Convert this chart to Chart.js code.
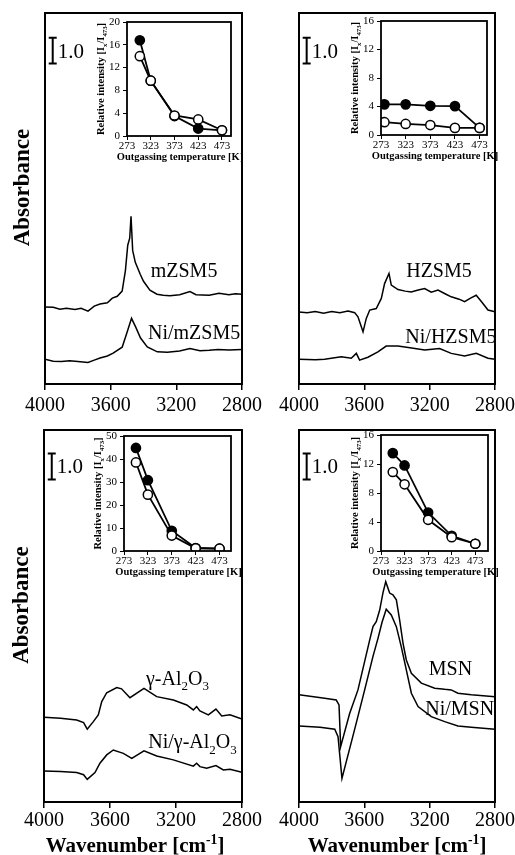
<!DOCTYPE html>
<html>
<head>
<meta charset="utf-8">
<script src="https://cdn.jsdelivr.net/npm/chart.js@4.4.1/dist/chart.umd.min.js"></script>
<style>
  body { margin: 0; background: #fff; overflow: hidden; }
  #wrap { position: relative; width: 515px; height: 855px; overflow: hidden; }
  #wrap canvas { position: absolute; left: 0; top: 0; }
</style>
</head>
<body>
<div id="wrap">
  <canvas id="mainTL" width="530" height="855"></canvas>
  <canvas id="mainTR" width="530" height="855"></canvas>
  <canvas id="mainBL" width="530" height="855"></canvas>
  <canvas id="mainBR" width="530" height="855"></canvas>
  <canvas id="insetTL" width="530" height="855"></canvas>
  <canvas id="insetTR" width="530" height="855"></canvas>
  <canvas id="insetBL" width="530" height="855"></canvas>
  <canvas id="insetBR" width="530" height="855"></canvas>
</div>
<script>
const FONT = "'Liberation Serif', 'Times New Roman', serif";
Chart.defaults.font.family = FONT;
Chart.defaults.color = '#000';

// x ticks
const wnTicks = [4000, 3600, 3200, 2800];
const tempTicks = [273, 323, 373, 423, 473];

// spectra (wavenumber / absorbance, a.u.)
const wnMZSM5 = [4000,3950,3909,3870,3817,3780,3738,3700,3665,3620,3590,3560,3530,3510,3496,3484,3476,3466,3450,3420,3400,3361,3318,3280,3239,3180,3117,3080,3000,2940,2880,2840,2800];
const absMZSM5 = [2.97,2.96,2.88,2.92,2.87,2.92,2.81,3.00,3.08,3.13,3.31,3.38,3.58,4.38,5.35,5.62,6.46,5.15,4.69,4.23,3.96,3.62,3.46,3.42,3.40,3.44,3.56,3.44,3.42,3.50,3.44,3.48,3.46];
const wnNiMZSM5 = [4000,3950,3900,3850,3800,3738,3700,3665,3620,3585,3530,3499,3473,3448,3418,3377,3316,3255,3180,3117,3056,3000,2946,2880,2800];
const absNiMZSM5 = [0.95,0.88,0.87,0.90,0.87,0.83,0.92,1.00,1.08,1.19,1.42,2.01,2.53,2.20,1.77,1.43,1.24,1.22,1.27,1.37,1.28,1.30,1.33,1.31,1.33];

const wnHZSM5 = [4000,3950,3900,3850,3800,3750,3700,3659,3639,3608,3588,3567,3527,3496,3476,3449,3435,3394,3350,3313,3270,3231,3190,3149,3100,3068,3020,2986,2950,2915,2880,2843,2800];
const absHZSM5 = [2.78,2.75,2.79,2.73,2.79,2.75,2.81,2.75,2.59,2.01,2.53,2.85,2.91,3.30,3.87,4.26,3.81,3.64,3.58,3.55,3.62,3.68,3.54,3.62,3.46,3.36,3.27,3.17,3.31,3.42,3.15,2.85,2.78];
const wnNiHZSM5 = [4000,3900,3843,3741,3680,3649,3629,3578,3517,3466,3394,3300,3231,3139,3068,2986,2915,2843,2800];
const absNiHZSM5 = [0.95,0.93,0.95,1.05,0.99,1.18,0.92,1.03,1.24,1.46,1.46,1.38,1.31,1.37,1.18,1.08,1.18,0.99,0.95];

const wnAl2O3 = [4000,3900,3802,3760,3738,3701,3671,3650,3620,3559,3530,3479,3394,3317,3216,3135,3095,3075,3055,3004,2958,2923,2873,2800];
const absAl2O3 = [3.26,3.22,3.15,3.05,2.80,3.09,3.35,3.86,4.20,4.40,4.35,4.01,4.37,4.05,3.92,3.73,3.54,3.67,3.50,3.35,3.57,3.31,3.35,3.19];
const wnNiAl2O3 = [4000,3900,3802,3760,3738,3691,3661,3620,3580,3519,3468,3394,3317,3216,3095,3075,3055,3014,2958,2913,2873,2800];
const absNiAl2O3 = [1.19,1.17,1.13,1.05,0.87,1.13,1.49,1.81,2.00,1.87,1.68,1.97,1.77,1.62,1.38,1.49,1.36,1.30,1.40,1.23,1.26,1.14];

const wnMSN = [4000,3843,3772,3755,3745,3690,3639,3567,3547,3527,3506,3486,3469,3445,3425,3404,3384,3363,3343,3312,3251,3169,3108,3068,3027,2945,2800];
const absMSN = [4.12,3.99,3.92,3.73,2.13,3.40,4.31,6.23,6.74,6.93,7.38,8.04,8.47,8.03,7.96,7.77,7.00,6.10,5.46,4.95,4.57,4.37,4.33,4.31,4.18,4.12,4.05];
const wnNiMSN = [4000,3871,3781,3761,3737,3657,3598,3547,3516,3492,3466,3435,3404,3374,3343,3312,3271,3190,3108,3027,2945,2800];
const absNiMSN = [2.92,2.87,2.80,2.51,0.91,2.85,4.31,5.60,6.30,6.90,7.41,7.19,6.74,5.97,5.08,4.18,3.67,3.28,3.09,2.92,2.87,2.80];

// insets: relative intensity I_x/I_473 vs outgassing temperature
const tempMZSM5 = [300, 323, 373, 423, 473];
const relMZSM5 = [16.8, 9.7, 3.5, 1.3, 1.0];
const relNiMZSM5 = [14.0, 9.7, 3.6, 2.9, 1.0];
const tempHZSM5 = [280, 323, 373, 423, 473];
const relHZSM5 = [4.3, 4.3, 4.1, 4.05, 1.0];
const relNiHZSM5 = [1.8, 1.55, 1.4, 1.0, 1.0];
const tempAl2O3 = [298, 323, 373, 423, 473];
const relAl2O3 = [44.8, 30.8, 8.8, 1.3, 1.0];
const relNiAl2O3 = [38.5, 24.5, 6.7, 1.2, 1.0];
const tempMSN = [298, 323, 373, 423, 473];
const relMSN = [13.5, 11.8, 5.3, 2.1, 1.0];
const relNiMSN = [10.9, 9.2, 4.3, 1.9, 1.0];

const W = 530, H = 855;
const yMax = 14.3;

// text with sub/superscripts: parts = [[text, 'sub'|'sup'|undefined], ...]
function drawRich(ctx, parts, x, y, size, bold, align, rot) {
  ctx.save();
  ctx.translate(x, y);
  if (rot) ctx.rotate(-Math.PI / 2);
  const fontOf = s => (bold ? 'bold ' : '') + s + 'px ' + FONT;
  const segs = parts.map(p => {
    const kind = p[1] || 'n';
    const s = kind === 'n' ? size : size * 0.65;
    ctx.font = fontOf(s);
    return { t: p[0], s: s, kind: kind, w: ctx.measureText(p[0]).width };
  });
  const total = segs.reduce((m, g) => m + g.w, 0);
  let cx = align === 'center' ? -total / 2 : (align === 'right' ? -total : 0);
  ctx.textAlign = 'left';
  ctx.textBaseline = 'alphabetic';
  ctx.fillStyle = '#000';
  const base = size * 0.33;
  segs.forEach(g => {
    ctx.font = fontOf(g.s);
    const off = g.kind === 'sub' ? size * 0.28 : (g.kind === 'sup' ? -size * 0.38 : 0);
    ctx.fillText(g.t, cx, base + off);
    cx += g.w;
  });
  ctx.restore();
}

function makeDecor(p) {
  return {
    id: 'decor',
    afterDraw(chart) {
      const ctx = chart.ctx, a = chart.chartArea;
      const xs = chart.scales.x, ys = chart.scales.y;
      ctx.save();
      ctx.strokeStyle = '#000';
      ctx.lineWidth = p.frame;
      ctx.strokeRect(a.left, a.top, a.right - a.left, a.bottom - a.top);
      (p.labels || []).forEach(l => {
        drawRich(ctx, l.parts, xs.getPixelForValue(l.x), ys.getPixelForValue(l.y), 20, false, 'center', false);
      });
      if (p.bar) {
        const bx = xs.getPixelForValue(p.bar.x);
        const y1 = ys.getPixelForValue(p.bar.top), y2 = ys.getPixelForValue(p.bar.top - 1.0);
        ctx.lineWidth = 2;
        ctx.beginPath();
        ctx.moveTo(bx, y1); ctx.lineTo(bx, y2);
        ctx.moveTo(bx - 4, y1); ctx.lineTo(bx + 4, y1);
        ctx.moveTo(bx - 4, y2); ctx.lineTo(bx + 4, y2);
        ctx.stroke();
        drawRich(ctx, [['1.0']], bx + 5, (y1 + y2) / 2, 21, false, 'left', false);
      }
      if (p.yTitle) {
        drawRich(ctx, p.yTitle.parts, a.left + p.yTitle.dx, (a.top + a.bottom) / 2 + p.yTitle.dy, p.yTitle.size, true, 'center', true);
      }
      if (p.xTitle) {
        drawRich(ctx, p.xTitle.parts, (a.left + a.right) / 2 + p.xTitle.dx, a.bottom + p.xTitle.dy, p.xTitle.size, true, 'center', false);
      }
      ctx.restore();
    }
  };
}

function spectrumChart(id, series, p) {
  return new Chart(document.getElementById(id), {
    type: 'line',
    data: {
      datasets: series.map(s => ({
        data: s.wn.map((w, i) => ({ x: w, y: s.abs[i] })),
        borderColor: '#000',
        borderWidth: 1.5,
        pointRadius: 0,
        tension: 0,
        fill: false
      }))
    },
    options: {
      responsive: false,
      animation: false,
      events: [],
      layout: { padding: { left: p.area[0], top: p.area[1], right: W - p.area[2], bottom: H - p.area[3] - p.xH } },
      plugins: { legend: { display: false }, tooltip: { enabled: false } },
      scales: {
        x: {
          type: 'linear', reverse: true, min: 2800, max: 4000,
          afterBuildTicks: s => { s.ticks = wnTicks.map(v => ({ value: v })); },
          afterFit: s => { s.height = p.xH; },
          ticks: { font: { size: 20 }, color: '#000', padding: p.tickPad, maxRotation: 0, autoSkip: false, callback: v => String(v) },
          grid: { drawOnChartArea: false, drawTicks: true, tickLength: 6, color: '#000', lineWidth: 1.5 },
          border: { display: false }
        },
        y: { display: false, min: 0, max: yMax }
      }
    },
    plugins: [makeDecor(p)]
  });
}

function insetChart(id, temps, filled, open, p) {
  const pts = vals => temps.map((t, i) => ({ x: t, y: vals[i] }));
  return new Chart(document.getElementById(id), {
    type: 'line',
    data: {
      datasets: [
        { data: pts(open), borderColor: '#000', borderWidth: 1.8, pointRadius: 4.6, pointBackgroundColor: '#fff', pointBorderColor: '#000', pointBorderWidth: 1.5, tension: 0 },
        { data: pts(filled), borderColor: '#000', borderWidth: 1.8, pointRadius: 4.6, pointBackgroundColor: '#000', pointBorderColor: '#000', pointBorderWidth: 1.5, tension: 0 }
      ]
    },
    options: {
      responsive: false,
      animation: false,
      events: [],
      layout: { padding: { left: p.area[0] - 20, top: p.area[1], right: W - p.area[2], bottom: H - p.area[3] - 28 } },
      plugins: { legend: { display: false }, tooltip: { enabled: false } },
      scales: {
        x: {
          type: 'linear', min: 273, max: p.xMax,
          afterBuildTicks: s => { s.ticks = tempTicks.map(v => ({ value: v })); },
          afterFit: s => { s.height = 28; },
          ticks: { font: { size: 11 }, color: '#000', padding: 0, maxRotation: 0, autoSkip: false },
          grid: { drawOnChartArea: false, drawTicks: true, tickLength: 4, color: '#000', lineWidth: 1 },
          border: { display: false }
        },
        y: {
          min: 0, max: p.yMax,
          afterFit: s => { s.width = 20; },
          ticks: { stepSize: p.yStep, font: { size: 11 }, color: '#000', padding: 3 },
          grid: { drawOnChartArea: false, drawTicks: true, tickLength: 4, color: '#000', lineWidth: 1 },
          border: { display: false }
        }
      }
    },
    plugins: [{
      id: 'insetDecor',
      afterDraw(chart) {
        const ctx = chart.ctx, a = chart.chartArea;
        ctx.save();
        ctx.strokeStyle = '#000';
        ctx.lineWidth = 1.8;
        ctx.strokeRect(a.left, a.top, a.right - a.left, a.bottom - a.top);
        drawRich(ctx, [['Relative intensity [I'], ['x', 'sub'], ['/I'], ['473', 'sub'], [']']],
          a.left - 26, (a.top + a.bottom) / 2, 10.5, true, 'center', true);
        drawRich(ctx, [['Outgassing temperature [K]']], (a.left + a.right) / 2 + 1, a.bottom + 21, 10.5, true, 'center', false);
        ctx.restore();
      }
    }]
  });
}

const absTitle = { parts: [['Absorbance']], dx: -24, dy: -11, size: 23 };
const wnTitle = [['Wavenumber [cm'], ['-1', 'sup'], [']']];

spectrumChart('mainTL', [{ wn: wnMZSM5, abs: absMZSM5 }, { wn: wnNiMZSM5, abs: absNiMZSM5 }], {
  area: [45, 13, 242, 384], xH: 40, tickPad: 4, frame: 2,
  bar: { x: 3953, top: 13.35 },
  yTitle: absTitle,
  labels: [{ parts: [['mZSM5']], x: 3153, y: 4.38 }, { parts: [['Ni/mZSM5']], x: 3092, y: 2.0 }]
});
spectrumChart('mainTR', [{ wn: wnHZSM5, abs: absHZSM5 }, { wn: wnNiHZSM5, abs: absNiHZSM5 }], {
  area: [299, 13, 495, 384], xH: 40, tickPad: 4, frame: 2,
  bar: { x: 3953, top: 13.35 },
  labels: [{ parts: [['HZSM5']], x: 3143, y: 4.38 }, { parts: [['Ni/HZSM5']], x: 3070, y: 1.85 }]
});
spectrumChart('mainBL', [{ wn: wnAl2O3, abs: absAl2O3 }, { wn: wnNiAl2O3, abs: absNiAl2O3 }], {
  area: [44, 430, 242, 802], xH: 50, tickPad: 1, frame: 2,
  bar: { x: 3953, top: 13.4 },
  yTitle: absTitle,
  xTitle: { parts: wnTitle, dx: -8, dy: 43, size: 21 },
  labels: [
    { parts: [['\u03b3-Al'], ['2', 'sub'], ['O'], ['3', 'sub']], x: 3191, y: 4.77 },
    { parts: [['Ni/\u03b3-Al'], ['2', 'sub'], ['O'], ['3', 'sub']], x: 3100, y: 2.32 }
  ]
});
spectrumChart('mainBR', [{ wn: wnMSN, abs: absMSN }, { wn: wnNiMSN, abs: absNiMSN }], {
  area: [299, 430, 495, 802], xH: 50, tickPad: 1, frame: 2,
  bar: { x: 3953, top: 13.4 },
  xTitle: { parts: wnTitle, dx: 0, dy: 43, size: 21 },
  labels: [{ parts: [['MSN']], x: 3073, y: 5.15 }, { parts: [['Ni/MSN']], x: 3016, y: 3.58 }]
});

insetChart('insetTL', tempMZSM5, relMZSM5, relNiMZSM5, { area: [127, 22, 231, 136], yMax: 20, yStep: 4, xMax: 492 });
insetChart('insetTR', tempHZSM5, relHZSM5, relNiHZSM5, { area: [381, 21, 487, 135], yMax: 16, yStep: 4, xMax: 488 });
insetChart('insetBL', tempAl2O3, relAl2O3, relNiAl2O3, { area: [124, 436, 231, 551], yMax: 50, yStep: 10, xMax: 497 });
insetChart('insetBR', tempMSN, relMSN, relNiMSN, { area: [381, 435, 488, 551], yMax: 16, yStep: 4, xMax: 500 });
</script>
</body>
</html>
